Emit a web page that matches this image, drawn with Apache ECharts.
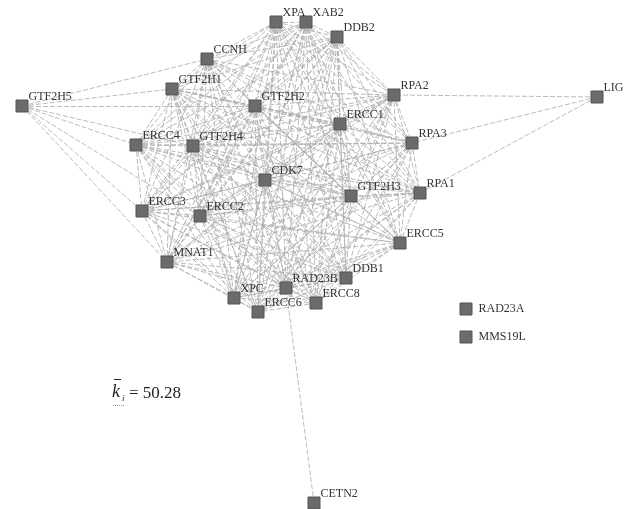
<!DOCTYPE html>
<html>
<head>
<meta charset="utf-8">
<script src="https://cdn.jsdelivr.net/npm/echarts@6/dist/echarts.min.js"></script>
<style>
html,body{margin:0;padding:0;background:#fff;}
#chart{width:624px;height:509px;}
</style>
</head>
<body>
<div id="chart"></div>
<script>
// Protein names and layout positions (pixels, y downwards)
const geneNames = ['XPA','XAB2','DDB2','CCNH','GTF2H1','GTF2H5','GTF2H2','ERCC4','GTF2H4','CDK7',
  'RPA2','LIG','ERCC1','RPA3','GTF2H3','RPA1','ERCC3','ERCC2','ERCC5','MNAT1',
  'DDB1','RAD23B','XPC','ERCC8','ERCC6','CETN2','RAD23A','MMS19L'];
const geneX = [276,306,337,207,172,22,255,136,193,265,
  394,597,340,412,351,420,142,200,400,167,
  346,286,234,316,258,314,466,466];
const geneY = [22,22,37,59,89,106,106,145,146,180,
  95,97,124,143,196,193,211,216,243,262,
  278,288,298,303,312,503,309,337];

// Densely interconnected NER core complex
const coreGroup = ['XPA','XAB2','DDB2','CCNH','GTF2H1','GTF2H2','ERCC4','GTF2H4','CDK7',
  'RPA2','ERCC1','RPA3','GTF2H3','RPA1','ERCC3','ERCC2','ERCC5','MNAT1',
  'DDB1','RAD23B','XPC','ERCC8','ERCC6'];
// Interactions of the peripheral proteins
const peripheralLinks = [
  ['GTF2H5','CCNH'],['GTF2H5','GTF2H1'],['GTF2H5','GTF2H2'],['GTF2H5','ERCC4'],
  ['GTF2H5','GTF2H4'],['GTF2H5','ERCC3'],['GTF2H5','ERCC2'],['GTF2H5','MNAT1'],
  ['LIG','RPA2'],['LIG','RPA3'],['LIG','RPA1'],
  ['CETN2','RAD23B']
];
const meanDegree = '50.28';

const nodes = geneNames.map((n, i) => ({
  name: n,
  value: [geneX[i], geneY[i]],
  label: (n === 'RAD23A' || n === 'MMS19L')
    ? {position: 'right', distance: 6, offset: [0, 0]}
    : {position: 'right', distance: 0, offset: [0, -9]}
}));

const links = [];
for (let i = 0; i < coreGroup.length; i++) {
  for (let j = i + 1; j < coreGroup.length; j++) {
    links.push({source: coreGroup[i], target: coreGroup[j]});
  }
}
peripheralLinks.forEach(p => links.push({source: p[0], target: p[1]}));

const chart = echarts.init(document.getElementById('chart'), null, {renderer: 'canvas'});
chart.setOption({
  backgroundColor: '#ffffff',
  animation: false,
  grid: {left: 0, right: 0, top: 0, bottom: 0},
  xAxis: {type: 'value', min: 0, max: 624, show: false},
  yAxis: {type: 'value', min: 0, max: 509, inverse: true, show: false},
  series: [{
    type: 'graph',
    layout: 'none',
    coordinateSystem: 'cartesian2d',
    symbol: 'rect',
    symbolSize: 12,
    data: nodes,
    links: links,
    itemStyle: {color: '#6b6b6b', borderColor: '#555', borderWidth: 1},
    lineStyle: {color: '#ababab', width: 1, type: [5, 2], opacity: 0.8, curveness: 0},
    label: {
      show: true,
      color: '#333',
      fontFamily: 'Liberation Serif',
      fontSize: 12
    },
    emphasis: {disabled: true},
    z: 2
  }],
  // mean degree annotation: k-bar with subscript i
  graphic: [
    {type: 'text', style: {x: 112, y: 383, text: 'k', font: 'italic 18px "Liberation Serif"', fill: '#222', verticalAlign: 'top'}},
    {type: 'line', shape: {x1: 114, y1: 379.5, x2: 121, y2: 379.5}, style: {stroke: '#222', lineWidth: 1}},
    {type: 'text', style: {x: 122, y: 394, text: 'i', font: 'italic 9px "Liberation Serif"', fill: '#222', verticalAlign: 'top'}},
    {type: 'line', shape: {x1: 113, y1: 405.5, x2: 125, y2: 405.5}, style: {stroke: '#999', lineWidth: 1, lineDash: [1, 1]}},
    {type: 'text', style: {x: 129, y: 385, text: '= ' + meanDegree, font: '17px "Liberation Serif"', fill: '#222', verticalAlign: 'top'}}
  ]
});
</script>
</body>
</html>
